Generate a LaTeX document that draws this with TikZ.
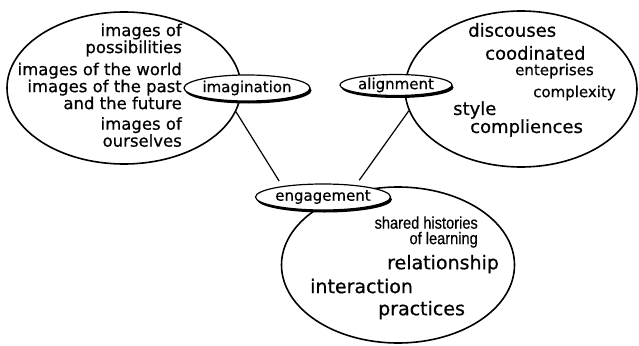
\documentclass[tikz,border=0pt]{standalone}
\usepackage{fontspec}
\usepackage{graphicx}
\setmainfont[FakeBold=0.6]{DejaVu Sans}
\newfontfamily\narrowfont[FakeBold=0.4]{Liberation Sans}
\usetikzlibrary{shapes.geometric,shadows}

\begin{document}
\begin{tikzpicture}[x=1pt,y=-1pt,
	field/.style={draw,ellipse,line width=1.6pt,inner sep=0,minimum width=234pt,minimum height=152pt},
	mode/.style={draw,ellipse,fill=white,line width=1.2pt,inner sep=0,minimum width=112pt,minimum height=24pt,
		font=\fontsize{15}{15}\selectfont,
		drop shadow={shadow xshift=1.5pt,shadow yshift=-2.5pt,fill=black,opacity=1}},
	big/.style={inner sep=0,font=\fontsize{18}{14}\selectfont},
	mid/.style={inner sep=0,align=right,font=\fontsize{16.5}{14}\selectfont},
	small/.style={inner sep=0,font=\fontsize{15}{14}\selectfont},
	link/.style={line width=1.2pt,shorten >=6pt}]
	\useasboundingbox (0,0) rectangle (639,345);

	% the three fields
	\node[field] (imaginationset) at (124,88) {};
	\node[field,minimum width=232pt,minimum height=156pt] (alignmentset) at (521,89) {};
	\node[field,minimum width=233pt,minimum height=156pt] (engagementset) at (398,265) {};

	% imagination
	\node[mid,anchor=east] (possibilities) at (182,40) {images of\\possibilities};
	\node[mid,anchor=east] (world) at (182,86) {images of the world\\images of the past\\and the future};
	\node[mid,anchor=east] (ourselves) at (182,132) {images of\\ourselves};

	% alignment
	\node[big,anchor=west] (discourses) at (468,30) {discouses};
	\node[big,anchor=west] (coordinated) at (485,53) {coodinated};
	\node[small,anchor=west] (enterprises) at (515,71) {enteprises};
	\node[small,anchor=west] (complexity) at (533,93) {complexity};
	\node[big,anchor=west] (style) at (453,110) {style};
	\node[big,anchor=west] (compliances) at (470,128) {compliences};

	% engagement
	\node[inner sep=0,align=right,anchor=east,font=\narrowfont\fontsize{17}{15.5}\selectfont] (histories) at (478,232)
		{\scalebox{0.86}[1]{shared histories}\\\scalebox{0.86}[1]{of learning}};
	\node[big,anchor=west,font=\fontsize{19}{14}\selectfont] (relationship) at (387,264) {relationship};
	\node[big,anchor=west,font=\fontsize{19}{14}\selectfont] (interaction) at (310,286) {interaction};
	\node[big,anchor=west,font=\fontsize{19}{14}\selectfont] (practices) at (378,310) {practices};

	% modes of belonging
	\node[mode,minimum height=26pt] (imagination) at (247,88) {imagination};
	\node[mode,minimum height=21pt] (alignment) at (396,85) {alignment};
	\node[mode,minimum width=118pt,minimum height=26pt] (engagement) at (323,197) {engagement};

	\draw[link] (imaginationset.-12) -- (engagement.165);
	\draw[link] (alignmentset.-169) -- (engagement.20);
\end{tikzpicture}
\end{document}
